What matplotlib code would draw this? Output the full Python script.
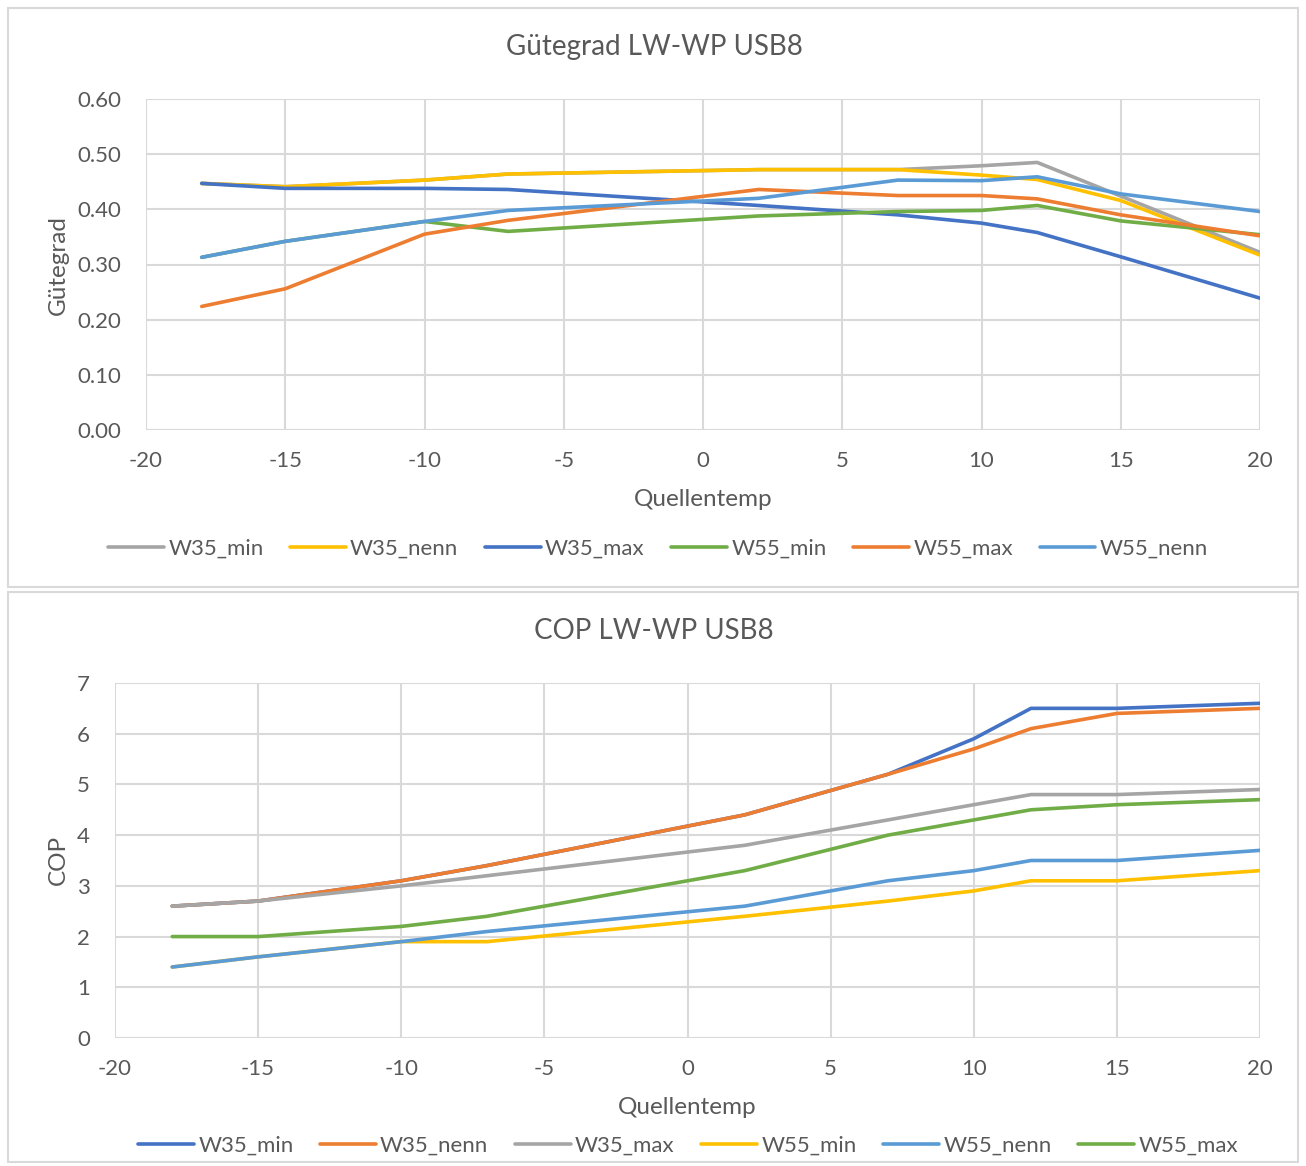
import numpy as np
import matplotlib.pyplot as plt
from matplotlib.patches import Rectangle

# Quellentemperatur (x) - same for both charts
quellentemp = [-18, -15, -10, -7, 2, 7, 10, 12, 15, 20]

# Guetegrad chart
g_labels = ["W35_min", "W35_nenn", "W35_max", "W55_min", "W55_max", "W55_nenn"]
g_w35_min = [0.447, 0.441, 0.453, 0.464, 0.472, 0.472, 0.479, 0.485, 0.424, 0.322]
g_w35_nenn = [0.447, 0.441, 0.453, 0.464, 0.472, 0.472, 0.462, 0.454, 0.416, 0.317]
g_w35_max = [0.447, 0.438, 0.438, 0.436, 0.407, 0.390, 0.375, 0.358, 0.314, 0.239]
g_w55_min = [0.313, 0.342, 0.378, 0.360, 0.388, 0.396, 0.398, 0.407, 0.379, 0.354]
g_w55_max = [0.224, 0.256, 0.355, 0.380, 0.436, 0.425, 0.425, 0.419, 0.390, 0.352]
g_w55_nenn = [0.313, 0.342, 0.378, 0.398, 0.420, 0.453, 0.452, 0.459, 0.428, 0.396]

# COP chart
c_labels = ["W35_min", "W35_nenn", "W35_max", "W55_min", "W55_nenn", "W55_max"]
c_w35_min = [2.6, 2.7, 3.1, 3.4, 4.4, 5.2, 5.9, 6.5, 6.5, 6.6]
c_w35_nenn = [2.6, 2.7, 3.1, 3.4, 4.4, 5.2, 5.7, 6.1, 6.4, 6.5]
c_w35_max = [2.6, 2.7, 3.0, 3.2, 3.8, 4.3, 4.6, 4.8, 4.8, 4.9]
c_w55_min = [1.4, 1.6, 1.9, 1.9, 2.4, 2.7, 2.9, 3.1, 3.1, 3.3]
c_w55_nenn = [1.4, 1.6, 1.9, 2.1, 2.6, 3.1, 3.3, 3.5, 3.5, 3.7]
c_w55_max = [2.0, 2.0, 2.2, 2.4, 3.3, 4.0, 4.3, 4.5, 4.6, 4.7]

BLUE, ORANGE, GRAY = "#4472C4", "#ED7D31", "#A5A5A5"
YELLOW, LBLUE, GREEN = "#FFC000", "#5B9BD5", "#70AD47"
TXT = "#595959"
GRID = "#D9D9D9"

plt.rcParams['font.family'] = ['Lato', 'DejaVu Sans']
plt.rcParams['axes.unicode_minus'] = False

W, H = 1306, 1166
fig = plt.figure(figsize=(W / 100, H / 100), dpi=100)


def fx(x):
    return x / W


def fy(y):
    return 1 - y / H


# chart area borders
for top, bot in [(8, 587), (592, 1162)]:
    fig.patches.append(Rectangle((fx(8), fy(bot)), fx(1298) - fx(8), fy(top) - fy(bot),
                                 transform=fig.transFigure, fill=False,
                                 edgecolor=GRID, linewidth=1.5))


def style(ax, xlim, ylim, yticks, yfmt):
    ax.set_xlim(*xlim)
    ax.set_ylim(*ylim)
    ax.set_xticks(np.arange(-20, 21, 5))
    ax.set_yticks(yticks)
    ax.set_yticklabels([yfmt.format(v) for v in yticks])
    ax.grid(True, color=GRID, linewidth=1.5)
    ax.set_axisbelow(True)
    for s in ax.spines.values():
        s.set_visible(False)
    ax.tick_params(length=0, labelsize=16, colors=TXT, pad=18)
    ax.tick_params(axis='x', pad=15)


# ---- Guetegrad ----
ax1 = fig.add_axes([fx(146), fy(430), fx(1260) - fx(146), fy(99) - fy(430)])
g_series = [g_w35_min, g_w35_nenn, g_w35_max, g_w55_min, g_w55_max, g_w55_nenn]
g_colors = [GRAY, YELLOW, BLUE, GREEN, ORANGE, LBLUE]
for vals, col, lab in zip(g_series, g_colors, g_labels):
    ax1.plot(quellentemp, vals, color=col, linewidth=2.6, label=lab, solid_capstyle='round')
style(ax1, (-20, 20), (0, 0.6), np.arange(0, 0.61, 0.1), "{:.2f}")
fig.text(fx(654), fy(47), "Gütegrad LW-WP USB8", ha='center', va='center', fontsize=20, color=TXT)
fig.text(fx(58), fy(265), "Gütegrad", ha='center', va='center', rotation=90, fontsize=17.5, color=TXT)
fig.text(fx(703), fy(500), "Quellentemp", ha='center', va='center', fontsize=17.5, color=TXT)
h, l = ax1.get_legend_handles_labels()
fig.legend(h, l, loc='center', bbox_to_anchor=(fx(658), fy(549)), ncol=6, frameon=False,
           fontsize=16, labelcolor=TXT, handlelength=2.5, columnspacing=1.2, handletextpad=0.2)

# ---- COP ----
ax2 = fig.add_axes([fx(115), fy(1038), fx(1260) - fx(115), fy(683) - fy(1038)])
c_series = [c_w35_min, c_w35_nenn, c_w35_max, c_w55_min, c_w55_nenn, c_w55_max]
c_colors = [BLUE, ORANGE, GRAY, YELLOW, LBLUE, GREEN]
for vals, col, lab in zip(c_series, c_colors, c_labels):
    ax2.plot(quellentemp, vals, color=col, linewidth=2.6, label=lab, solid_capstyle='round')
style(ax2, (-20, 20), (0, 7), np.arange(0, 8, 1), "{:.0f}")
fig.text(fx(654), fy(631), "COP LW-WP USB8", ha='center', va='center', fontsize=20, color=TXT)
fig.text(fx(58), fy(860), "COP", ha='center', va='center', rotation=90, fontsize=17.5, color=TXT)
fig.text(fx(687), fy(1107), "Quellentemp", ha='center', va='center', fontsize=17.5, color=TXT)
h, l = ax2.get_legend_handles_labels()
fig.legend(h, l, loc='center', bbox_to_anchor=(fx(688), fy(1146)), ncol=6, frameon=False,
           fontsize=16, labelcolor=TXT, handlelength=2.5, columnspacing=1.2, handletextpad=0.2)

fig.savefig("out.png", dpi=100, facecolor="white")
